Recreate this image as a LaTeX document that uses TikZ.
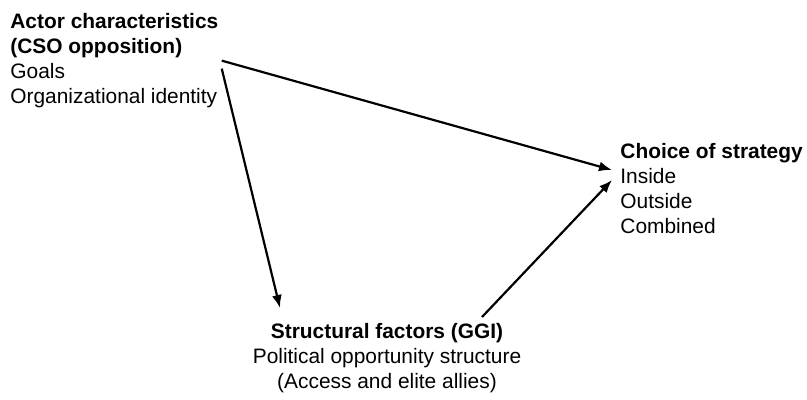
\documentclass[tikz,border=0pt]{standalone}
\usepackage{fontspec}
\setmainfont{Liberation Sans}
\usetikzlibrary{arrows.meta}

\begin{document}
\begin{tikzpicture}[x=0.5pt, y=-0.5pt,
    block/.style={inner sep=0pt, font=\fontsize{10.45}{12.5}\selectfont},
    causal/.style={-{Latex[length=6.5pt,width=5pt]}, line width=1.1pt}]
  \useasboundingbox (0,0) rectangle (807,400);

  \node[block, anchor=north west, align=left] (actor) at (10,13)
    {\textbf{Actor characteristics}\\ \textbf{(CSO opposition)}\\ Goals\\ Organizational identity};
  \node[block, anchor=north west, align=left] (choice) at (620,143)
    {\textbf{Choice of strategy}\\ Inside\\ Outside\\ Combined};
  \node[block, anchor=north, align=center] (structural) at (387,323)
    {\textbf{Structural factors (GGI)}\\ Political opportunity structure\\ (Access and elite allies)};

  % actor -> strategy, actor -> structure -> strategy
  \draw[causal] ([xshift=1.5pt]actor.east) -- ([shift={(-4pt,-13.5pt)}]choice.north west);
  \draw[causal] ([shift={(1.5pt,-4pt)}]actor.east) -- ([shift={(-53.5pt,7.5pt)}]structural.north);
  \draw[causal] ([shift={(47.5pt,3pt)}]structural.north) -- ([shift={(-4pt,-18.5pt)}]choice.north west);
\end{tikzpicture}
\end{document}
